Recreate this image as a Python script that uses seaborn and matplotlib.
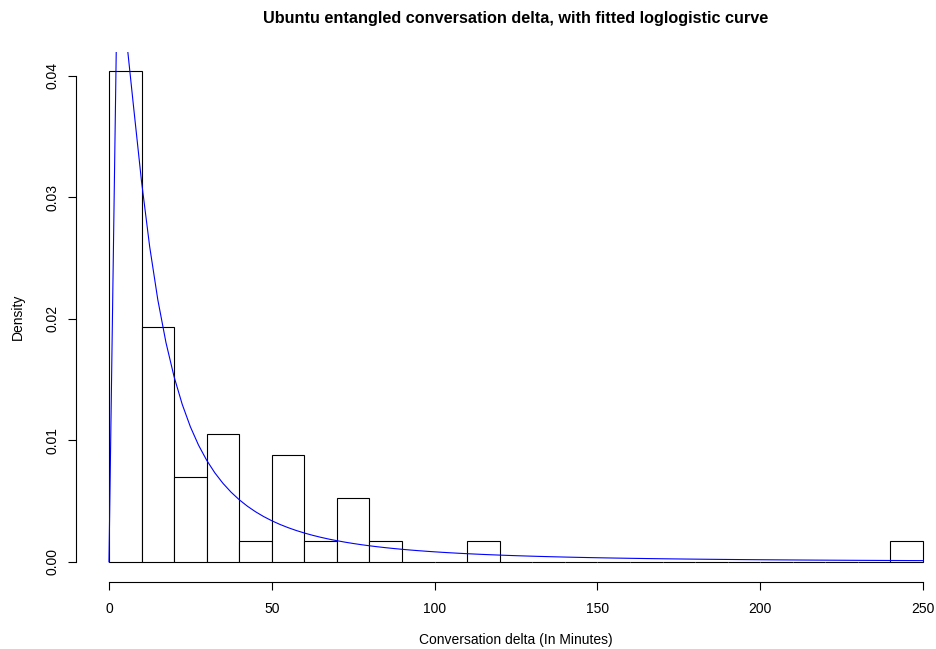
import numpy as np
import pandas as pd
import matplotlib
matplotlib.use("Agg")
import matplotlib.pyplot as plt
import seaborn as sns

# ---- data ----
bin_edges = list(range(0, 260, 10))          # 0,10,...,250
bin_counts = [23, 11, 4, 6, 1, 5, 1, 3, 1, 0, 0, 1, 0,
              0, 0, 0, 0, 0, 0, 0, 0, 0, 0, 0, 1]
x_ticks = [0, 50, 100, 150, 200, 250]
y_ticks = [0.00, 0.01, 0.02, 0.03, 0.04]
y_tick_labels = ["0.00", "0.01", "0.02", "0.03", "0.04"]
# fitted loglogistic parameters
ll_shape = 1.3
ll_scale = 13.5
curve_n = 101

title = "Ubuntu entangled conversation delta, with fitted loglogistic curve"
xlabel = "Conversation delta (In Minutes)"
ylabel = "Density"

sns.set_style("white")
plt.rcParams["font.family"] = ["Liberation Sans", "DejaVu Sans"]
plt.rcParams["text.color"] = "black"

W, H, DPI = 937, 649, 100
fig = plt.figure(figsize=(W / DPI, H / DPI), dpi=DPI)
ax_left, ax_right, ax_top, ax_bottom = 76.4, 955.6, 51.7, 581.6
ax = fig.add_axes([ax_left / W, 1 - ax_bottom / H,
                   (ax_right - ax_left) / W, (ax_bottom - ax_top) / H])

hist_df = pd.DataFrame({"left": bin_edges[:-1], "count": bin_counts})
sns.histplot(data=hist_df, x="left", weights="count", bins=bin_edges,
             stat="density", color="white", edgecolor="black",
             linewidth=0.8, alpha=1, ax=ax)

xs = np.linspace(bin_edges[0], bin_edges[-1], curve_n)
u = xs / ll_scale
dens = (ll_shape / ll_scale) * u ** (ll_shape - 1) / (1 + u ** ll_shape) ** 2
sns.lineplot(x=xs, y=dens, color="#0000FF", linewidth=0.8, ax=ax,
             estimator=None, sort=False)

max_d = max(bin_counts) / (sum(bin_counts) * 10)
ax.set_xlim(-10, 260)
ax.set_ylim(-0.04 * max_d, max_d * 1.04)

for s in ["top", "right"]:
    ax.spines[s].set_visible(False)
for s in ["left", "bottom"]:
    ax.spines[s].set_color("black")
    ax.spines[s].set_linewidth(0.8)
ax.spines["left"].set_bounds(y_ticks[0], y_ticks[-1])
ax.spines["bottom"].set_bounds(x_ticks[0], x_ticks[-1])

ax.set_xticks(x_ticks)
ax.set_xticklabels([str(t) for t in x_ticks])
ax.set_yticks(y_ticks)
ax.set_yticklabels(y_tick_labels, rotation=90, va="center", ha="center")
ax.tick_params(axis="both", direction="out", length=6.1, width=0.8,
               color="black", labelsize=10, labelcolor="black",
               left=True, bottom=True)
ax.tick_params(axis="x", pad=8.3)
ax.tick_params(axis="y", pad=11.4)

ax.set_xlabel(xlabel, fontsize=10, color="black")
ax.set_ylabel(ylabel, fontsize=10, color="black")
ax.xaxis.set_label_coords(0.5, (ax_bottom - 640) / (ax_bottom - ax_top))
ax.xaxis.label.set_va("center")
ax.yaxis.set_label_coords((18 - ax_left) / (ax_right - ax_left), 0.5)
ax.yaxis.label.set_va("center")
ax.set_title(title, fontsize=11.7, fontweight="bold", pad=20.8, color="black")
ax.grid(False)

fig.savefig("out.png", dpi=DPI)
